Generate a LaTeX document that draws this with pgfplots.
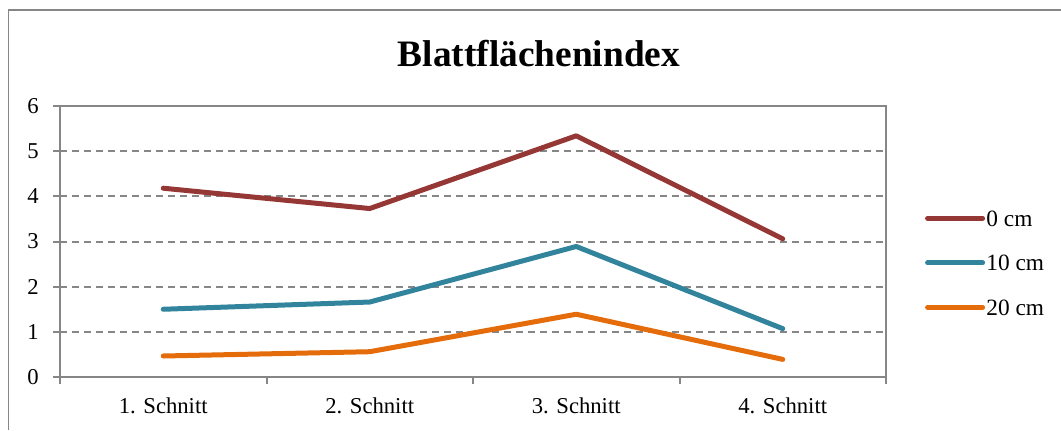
\documentclass[border=0pt]{standalone}
\usepackage{fontspec}
\setmainfont{Liberation Serif}
\usepackage{pgfplots}
\pgfplotsset{compat=1.18}
\definecolor{cRed}{HTML}{953735}
\definecolor{cTeal}{HTML}{31849B}
\definecolor{cOrange}{HTML}{E46C0A}
\definecolor{cGray}{HTML}{868686}
\begin{document}
\begin{tikzpicture}[x=0.75pt,y=0.75pt]
\useasboundingbox (0,0) rectangle (1061,430);
\draw[cGray, line width=1.2pt] (8.5,0) -- (8.5,420) -- (1061,420);
\node[anchor=base, font=\fontsize{28}{32}\selectfont\bfseries, inner sep=0pt] at (539,363.3) {Blattflächenindex};
\begin{axis}[
  at={(45pt,39.75pt)}, anchor=south west,
  scale only axis, width=619.5pt, height=203.25pt,
  xmin=0.5, xmax=4.5, ymin=0, ymax=6,
  xtick={1,2,3,4},
  xticklabels={1. Schnitt,2. Schnitt,3. Schnitt,4. Schnitt},
  minor xtick={0.5,1.5,2.5,3.5,4.5},
  ytick={0,1,2,3,4,5,6},
  tick align=outside,
  major tick length=5.25pt, minor tick length=5.25pt,
  major x tick style={draw=none},
  tick style={cGray, line width=1.5pt},
  xtick pos=bottom, ytick pos=left,
  axis line style={cGray, line width=1.5pt},
  ymajorgrids,
  grid style={cGray, line width=1.5pt, dash pattern=on 5.25pt off 3.75pt},
  ticklabel style={font=\fontsize{17}{20}\selectfont},
  /pgf/number format/assume math mode=true,
  yticklabel style={inner sep=0pt, xshift=-10.5pt},
  xticklabel style={inner sep=0pt, yshift=-9.75pt},
  legend style={at={(1.047,0.425)}, anchor=west, draw=none, fill=none, inner sep=0pt,
    font=\fontsize{17.5}{20}\selectfont, row sep=19.9pt, column sep=1pt,
    nodes={inner sep=0pt, text height=12pt, text depth=0pt}},
  legend cell align=left,
  legend image code/.code={\draw[#1, line cap=round] (0pt,0pt) -- (41.25pt,0pt); \path (0pt,5.6pt);},
  every axis plot/.append style={line width=3.75pt, line cap=round, line join=round},
]
\addplot[cRed] coordinates {(1,4.18) (2,3.73) (3,5.34) (4,3.06)};
\addlegendentry{0 cm}
\addplot[cTeal] coordinates {(1,1.50) (2,1.66) (3,2.89) (4,1.07)};
\addlegendentry{10 cm}
\addplot[cOrange] coordinates {(1,0.465) (2,0.56) (3,1.39) (4,0.39)};
\addlegendentry{20 cm}
\end{axis}
\end{tikzpicture}
\end{document}
